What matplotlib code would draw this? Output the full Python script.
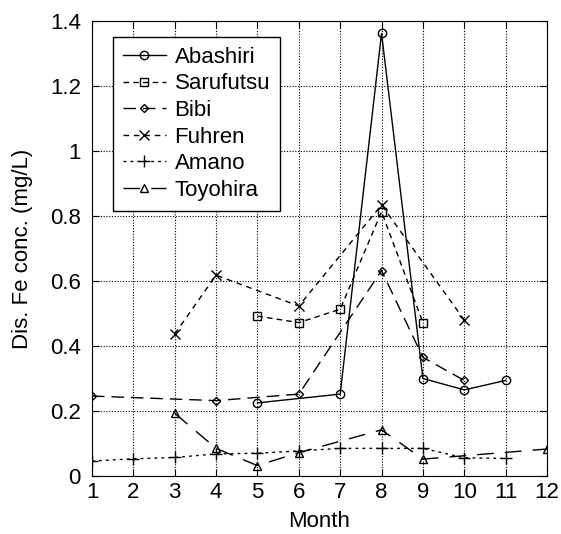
import matplotlib
matplotlib.use('Agg')
import matplotlib.pyplot as plt

plt.rcParams['font.family'] = ['Liberation Sans', 'DejaVu Sans']

# monthly dissolved Fe (mg/L)
abashiri_m = [5, 7, 8, 9, 10, 11]
abashiri_v = [0.225, 0.252, 1.362, 0.30, 0.265, 0.294]
sarufutsu_m = [5, 6, 7, 8, 9]
sarufutsu_v = [0.492, 0.472, 0.513, 0.813, 0.472]
bibi_m = [1, 4, 6, 8, 9, 10]
bibi_v = [0.246, 0.232, 0.252, 0.632, 0.365, 0.294]
fuhren_m = [3, 4, 6, 8, 10]
fuhren_v = [0.437, 0.618, 0.523, 0.834, 0.48]
amano_m = [1, 2, 3, 4, 5, 6, 7, 8, 9, 10, 11]
amano_v = [0.046, 0.053, 0.057, 0.068, 0.07, 0.077, 0.085, 0.085, 0.085, 0.056, 0.054]
toyohira_m = [3, 4, 5, 6, 8, 9, 12]
toyohira_v = [0.193, 0.085, 0.032, 0.072, 0.142, 0.052, 0.083]

fig = plt.figure(figsize=(5.61, 5.34), dpi=100)
ax = fig.add_axes([92/561, 1 - 476/534, 455/561, 455/534])

mk = dict(color='k', markerfacecolor='none', markeredgecolor='k', lw=1.0)
ax.plot(abashiri_m, abashiri_v, '-', marker='o', markersize=6, label='Abashiri', **mk)
ax.plot(sarufutsu_m, sarufutsu_v, marker='s', markersize=6, dashes=(4, 3), label='Sarufutsu', **mk)
ax.plot(bibi_m, bibi_v, marker='D', markersize=4, dashes=(9, 5), label='Bibi', **mk)
ax.plot(fuhren_m, fuhren_v, marker='x', markersize=7, dashes=(4, 3.5), label='Fuhren', **mk)
ax.plot(amano_m, amano_v, marker='+', markersize=9, dashes=(2, 3), label='Amano', **mk)
ax.plot(toyohira_m, toyohira_v, marker='^', markersize=6, dashes=(12, 8), label='Toyohira', **mk)

ax.set_xlim(1, 12)
ax.set_ylim(0, 1.4)
ax.set_xticks(range(1, 13))
ax.set_yticks([0, 0.2, 0.4, 0.6, 0.8, 1.0, 1.2, 1.4])
ax.set_yticklabels(['0', '0.2', '0.4', '0.6', '0.8', '1', '1.2', '1.4'])
ax.grid(True, color='k', linestyle=(0, (1, 1.5)), linewidth=0.8)
ax.tick_params(direction='in', top=True, right=True, labelsize=16, length=5)
ax.tick_params(axis='x', pad=4)
ax.tick_params(axis='y', pad=8)
ax.set_xlabel('Month', fontsize=16, labelpad=6)
ax.set_ylabel('Dis. Fe conc. (mg/L)', fontsize=16, labelpad=12)

leg = ax.legend(loc='upper left', bbox_to_anchor=(0.047, 0.965), fontsize=16, fancybox=False,
                framealpha=1, edgecolor='k', handlelength=1.9, borderpad=0.45, labelspacing=0.25,
                handletextpad=0.4, borderaxespad=0)
leg.get_frame().set_linewidth(1.0)

fig.savefig('out.png', dpi=100)
